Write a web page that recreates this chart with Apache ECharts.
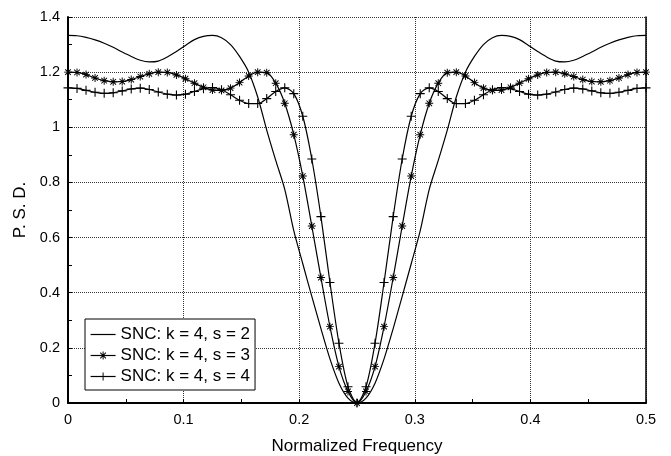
<!DOCTYPE html>
<html><head><meta charset="utf-8">
<script src="https://cdn.jsdelivr.net/npm/echarts@6/dist/echarts.min.js"></script>
<style>html,body{margin:0;padding:0;background:#fff}#c{width:671px;height:456px}</style>
</head><body><div id="c"></div>
<script>
// Normalized frequency sample points (markers are drawn at each of these)
const freq = [0, 0.0078, 0.0156, 0.0234, 0.0313, 0.0391, 0.0469, 0.0547, 0.0625, 0.0703, 0.0781, 0.0859, 0.0938, 0.1016, 0.1094, 0.1172, 0.125, 0.1328, 0.1406, 0.1484, 0.1563, 0.1641, 0.1719, 0.1797, 0.1875, 0.1953, 0.2031, 0.2109, 0.2188, 0.2266, 0.2344, 0.2422, 0.25, 0.2578, 0.2656, 0.2734, 0.2813, 0.2891, 0.2969, 0.3047, 0.3125, 0.3203, 0.3281, 0.3359, 0.3438, 0.3516, 0.3594, 0.3672, 0.375, 0.3828, 0.3906, 0.3984, 0.4063, 0.4141, 0.4219, 0.4297, 0.4375, 0.4453, 0.4531, 0.4609, 0.4688, 0.4766, 0.4844, 0.4922, 0.5];

const psdS2 = [1.333, 1.332, 1.326, 1.317, 1.305, 1.290, 1.273, 1.257, 1.243, 1.237, 1.240, 1.255, 1.275, 1.297, 1.318, 1.330, 1.333, 1.325, 1.300, 1.257, 1.200, 1.110, 0.990, 0.880, 0.775, 0.625, 0.505, 0.387, 0.270, 0.160, 0.072, 0.018, 0.000,
  0.018, 0.072, 0.160, 0.270, 0.387, 0.505, 0.625, 0.775, 0.880, 0.990, 1.110, 1.200, 1.257, 1.300, 1.325, 1.333, 1.330, 1.318, 1.297, 1.275, 1.255, 1.240, 1.237, 1.243, 1.257, 1.273, 1.290, 1.305, 1.317, 1.326, 1.332, 1.333];

const psdS3 = [1.200, 1.199, 1.191, 1.179, 1.169, 1.165, 1.166, 1.173, 1.184, 1.194, 1.200, 1.199, 1.190, 1.176, 1.160, 1.145, 1.135, 1.134, 1.142, 1.162, 1.186, 1.200, 1.198, 1.160, 1.087, 0.973, 0.823, 0.642, 0.455, 0.277, 0.132, 0.042, 0.000,
  0.042, 0.132, 0.277, 0.455, 0.642, 0.823, 0.973, 1.087, 1.160, 1.198, 1.200, 1.186, 1.162, 1.142, 1.134, 1.135, 1.145, 1.160, 1.176, 1.190, 1.199, 1.200, 1.194, 1.184, 1.173, 1.166, 1.165, 1.169, 1.179, 1.191, 1.199, 1.200];

const psdS4 = [1.143, 1.141, 1.134, 1.127, 1.123, 1.125, 1.132, 1.139, 1.142, 1.137, 1.128, 1.120, 1.117, 1.120, 1.130, 1.140, 1.144, 1.136, 1.118, 1.098, 1.086, 1.086, 1.104, 1.130, 1.143, 1.122, 1.040, 0.885, 0.676, 0.437, 0.217, 0.059, 0.000,
  0.059, 0.217, 0.437, 0.676, 0.885, 1.040, 1.122, 1.143, 1.130, 1.104, 1.086, 1.086, 1.098, 1.118, 1.136, 1.144, 1.140, 1.130, 1.120, 1.117, 1.120, 1.128, 1.137, 1.142, 1.139, 1.132, 1.125, 1.123, 1.127, 1.134, 1.141, 1.143];

const seriesNames = ['SNC: k = 4, s = 2', 'SNC: k = 4, s = 3', 'SNC: k = 4, s = 4'];
const xTitle = 'Normalized Frequency';
const yTitle = 'P. S. D.';

const FONT = 'Liberation Sans';
const plusPath = 'path://M-0.6,-5h1.2v10h-1.2zM-5,-0.6h10v1.2h-10z';
const starPath = 'path://M-0.6,-5h1.2v10h-1.2zM-5,-0.6h10v1.2h-10zM-3.08,-3.92L3.92,3.08L3.08,3.92L-3.92,-3.08zM3.92,-3.08L-3.08,3.92L-3.92,3.08L3.08,-3.92z';
const dotPath = 'path://M0,0h1v1h-1z';

function pairs(ys) { return freq.map((x, i) => [x, ys[i]]); }

const chart = echarts.init(document.getElementById('c'), null, {renderer: 'canvas'});
chart.setOption({
  animation: false,
  backgroundColor: '#fff',
  textStyle: {fontFamily: FONT},
  grid: {left: 68, right: 25, top: 17, bottom: 53, containLabel: false, outerBoundsMode: 'none'},
  legend: {
    orient: 'vertical', left: 85, top: 319,
    itemWidth: 25, itemHeight: 10, itemGap: 0,
    padding: [5, 5, 3, 5],
    borderColor: '#000', borderWidth: 1, backgroundColor: '#fff',
    selectedMode: false,
    lineStyle: {width: 1.2},
    textStyle: {fontFamily: FONT, fontSize: 17, color: '#000', lineHeight: 21},
    data: seriesNames
  },
  xAxis: {
    type: 'value', min: 0, max: 0.5, interval: 0.1,
    name: xTitle, nameLocation: 'middle', nameGap: 35,
    nameTextStyle: {fontFamily: FONT, fontSize: 17, color: '#000'},
    axisLine: {onZero: false, lineStyle: {color: '#000', width: 2}},
    axisTick: {show: true, inside: true, length: 4, lineStyle: {color: '#000'}},
    minorTick: {show: true, splitNumber: 2, length: 4, lineStyle: {color: '#000'}},
    axisLabel: {fontFamily: FONT, fontSize: 14.5, color: '#000', margin: 9},
    splitLine: {show: true, lineStyle: {type: 'dotted', color: '#333', width: 1}}
  },
  yAxis: [{
    type: 'value', min: 0, max: 1.4, interval: 0.2,
    name: yTitle, nameLocation: 'middle', nameGap: 38, nameRotate: 90,
    nameTextStyle: {fontFamily: FONT, fontSize: 17, color: '#000'},
    axisLine: {show: true, onZero: false, lineStyle: {color: '#000', width: 2}},
    axisTick: {show: true, inside: true, length: 4, lineStyle: {color: '#000'}},
    minorTick: {show: true, splitNumber: 2, length: 4, lineStyle: {color: '#000'}},
    axisLabel: {fontFamily: FONT, fontSize: 14.5, color: '#000', margin: 8},
    splitLine: {show: true, lineStyle: {type: 'dotted', color: '#333', width: 1}}
  }, {
    type: 'value', min: 0, max: 1.4, interval: 0.2, position: 'right',
    axisLine: {show: true, onZero: false, lineStyle: {color: '#000', width: 1.5}},
    axisTick: {show: false}, axisLabel: {show: false}, splitLine: {show: false}
  }],
  series: [{
    name: seriesNames[0], type: 'line', data: pairs(psdS2),
    showSymbol: false, symbol: dotPath, smooth: 0.3,
    lineStyle: {color: '#000', width: 1.2},
    itemStyle: {color: 'rgba(0,0,0,0)'}
  }, {
    name: seriesNames[1], type: 'line', data: pairs(psdS3),
    symbol: starPath, symbolSize: 8, showAllSymbol: true, smooth: 0.3,
    lineStyle: {color: '#000', width: 1.2},
    itemStyle: {color: '#000'}
  }, {
    name: seriesNames[2], type: 'line', data: pairs(psdS4),
    symbol: plusPath, symbolSize: 9, showAllSymbol: true, smooth: 0.3,
    lineStyle: {color: '#000', width: 1.2},
    itemStyle: {color: '#000'}
  }]
});
</script></body></html>
